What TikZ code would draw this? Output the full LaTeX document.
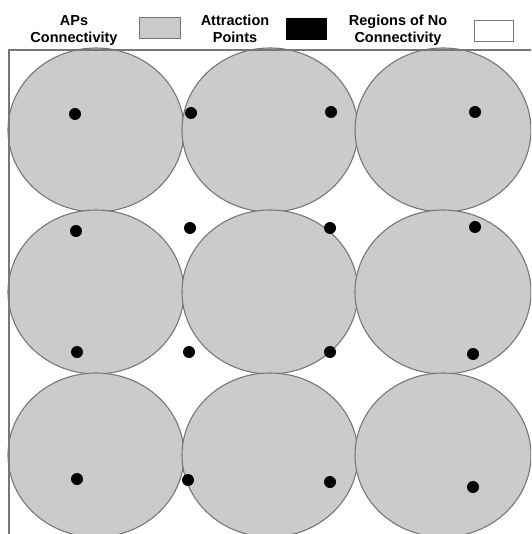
\documentclass[tikz,border=0pt]{standalone}
\usepackage{fontspec}
\setmainfont{Liberation Sans}
\definecolor{apfill}{HTML}{CBCBCB}
\definecolor{edgegray}{HTML}{777777}
\begin{document}
\begin{tikzpicture}[x=1pt,y=-1pt,
  cover/.style={fill=apfill,draw=edgegray,line width=1.1pt},
  apoint/.style={fill=black},
  frameline/.style={draw=edgegray,line width=1.3pt},
  legtext/.style={font=\bfseries\fontsize{14.5}{17}\selectfont,align=center,inner sep=0pt,anchor=north},
  legbox/.style={draw=edgegray,line width=1pt}]
\useasboundingbox (0,0) rectangle (531,534);

% legend
\node[legtext] (lgap) at (74,15) {APs\\Connectivity};
\draw[legbox,fill=apfill] (139,18) rectangle (180,39);
\node[legtext] (lgattr) at (235,15) {Attraction\\Points};
\draw[legbox,draw=black,fill=black] (286,19) rectangle (326,40);
\node[legtext] (lgnone) at (398,15) {Regions of No\\Connectivity};
\draw[legbox,fill=white] (474,21) rectangle (513,42);

\begin{scope}
  \clip (0,0) rectangle (531,534);
  % access point coverage areas
  \foreach \cy in {130,292,455}
    \foreach \cx in {96,270,443}
      \draw[cover] (\cx,\cy) ellipse [x radius=88, y radius=82];
  % area boundary
  \draw[frameline] (9,540) -- (9,50) -- (540,50);
\end{scope}

% attraction points
\foreach \px/\py in {75/114,191/113,331/112,475/112,
                     76/231,190/228,330/228,475/227,
                     77/352,189/352,330/352,473/354,
                     77/479,188/480,330/482,473/487}
  \fill[apoint] (\px,\py) circle [radius=6];
\end{tikzpicture}
\end{document}
